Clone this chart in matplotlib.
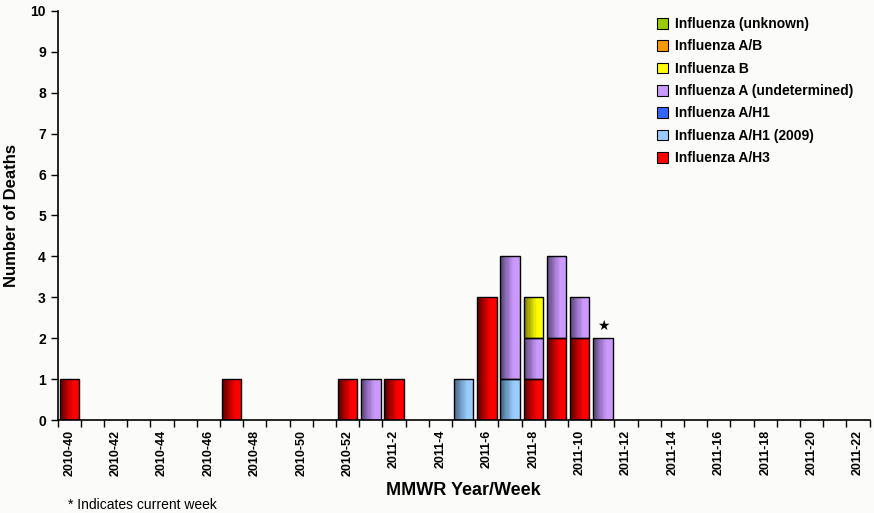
import numpy as np
import matplotlib
matplotlib.use("Agg")
import matplotlib.pyplot as plt
from matplotlib.patches import Patch
from matplotlib.colors import to_rgb

plt.rcParams['font.family'] = ['Liberation Sans', 'DejaVu Sans']

# weeks 2010-40 .. 2010-52, 2011-1 .. 2011-22
weeks = [f"2010-{w}" for w in range(40, 53)] + [f"2011-{w}" for w in range(1, 23)]
n = len(weeks)

def series(pairs):
    v = np.zeros(n)
    for wk, val in pairs.items():
        v[weeks.index(wk)] = val
    return v

h3 = series({"2010-40": 1, "2010-47": 1, "2010-52": 1, "2011-2": 1, "2011-6": 3,
             "2011-8": 1, "2011-9": 2, "2011-10": 2})
h1_2009 = series({"2011-5": 1, "2011-7": 1})
h1 = series({})
a_undet = series({"2011-1": 1, "2011-7": 3, "2011-8": 1, "2011-9": 2, "2011-10": 1, "2011-11": 2})
flu_b = series({"2011-8": 1})
flu_ab = series({})
unknown = series({})
current_week = "2011-11"

stack = [
    ("Influenza A/H3", h3, "#FF0000", "#500000"),
    ("Influenza A/H1 (2009)", h1_2009, "#99CCFF", "#40607e"),
    ("Influenza A/H1", h1, "#3366FF", "#1a3380"),
    ("Influenza A (undetermined)", a_undet, "#CC99FF", "#504070"),
    ("Influenza B", flu_b, "#FFFF00", "#6a6a00"),
    ("Influenza A/B", flu_ab, "#FF9900", "#8a5200"),
    ("Influenza (unknown)", unknown, "#99CC00", "#4f6a00"),
]

bg = "#fbfbf9"
fig = plt.figure(figsize=(8.74, 5.13), dpi=100, facecolor=bg)
ax = fig.add_axes([0.066, 0.181, 0.929, 0.798], facecolor=bg)

x = np.arange(n)
w = 0.84
k = 16  # slices for the left-to-right shading
bottom = np.zeros(n)
for name, vals, col, dark in stack:
    c1, c0 = np.array(to_rgb(col)), np.array(to_rgb(dark))
    for j in range(k):
        t = min(1.0, (j + 0.5) / k / 0.7) ** 0.9
        shade = c0 + (c1 - c0) * t
        xs = x - w / 2 + j * w / k
        ax.bar(xs, vals, w / k * 1.05, bottom=bottom, align="edge", color=shade,
               edgecolor="none", zorder=2)
    ax.bar(x, vals, w, bottom=bottom, facecolor="none", edgecolor="black",
           linewidth=np.where(vals > 0, 1.0, 0), zorder=3)
    bottom += vals

ci = weeks.index(current_week)
ax.text(ci, bottom[ci] + 0.12, "★", ha="center", va="bottom", fontsize=10,
        family=['DejaVu Sans'])

ax.set_xlim(-0.5, n - 0.5)
ax.set_ylim(0, 10)
ax.set_yticks(range(0, 11))
ax.tick_params(axis="y", labelsize=10, length=5, width=1)
for lab in ax.get_yticklabels():
    lab.set_fontweight("bold")

ax.set_xticks(np.arange(-0.5, n, 1))
ax.set_xticklabels([])
ax.tick_params(axis="x", length=5, width=1)
ax.set_xticks(x[::2], minor=True)
ax.set_xticklabels(weeks[::2], minor=True, rotation=90, fontsize=9, fontweight="bold")
ax.tick_params(axis="x", which="minor", length=0, pad=7)

for s in ["top", "right"]:
    ax.spines[s].set_visible(False)
ax.spines["left"].set_linewidth(1.2)
ax.spines["bottom"].set_linewidth(1.2)

ax.set_ylabel("Number of Deaths", fontsize=12, fontweight="bold", labelpad=8)
ax.set_xlabel("MMWR Year/Week", fontsize=13, fontweight="bold", labelpad=4)

handles = [Patch(facecolor=col, edgecolor="black", linewidth=0.8, label=name)
           for name, vals, col, dark in reversed(stack)]
leg = ax.legend(handles=handles, loc="upper right", bbox_to_anchor=(0.995, 1.015), frameon=False,
                prop={"weight": "bold", "size": 10}, handlelength=0.8, handleheight=0.8,
                handletextpad=0.5, labelspacing=0.6)

fig.text(0.078, 0.008, "* Indicates current week", fontsize=10)

fig.savefig("out.png", dpi=100, facecolor=bg)
